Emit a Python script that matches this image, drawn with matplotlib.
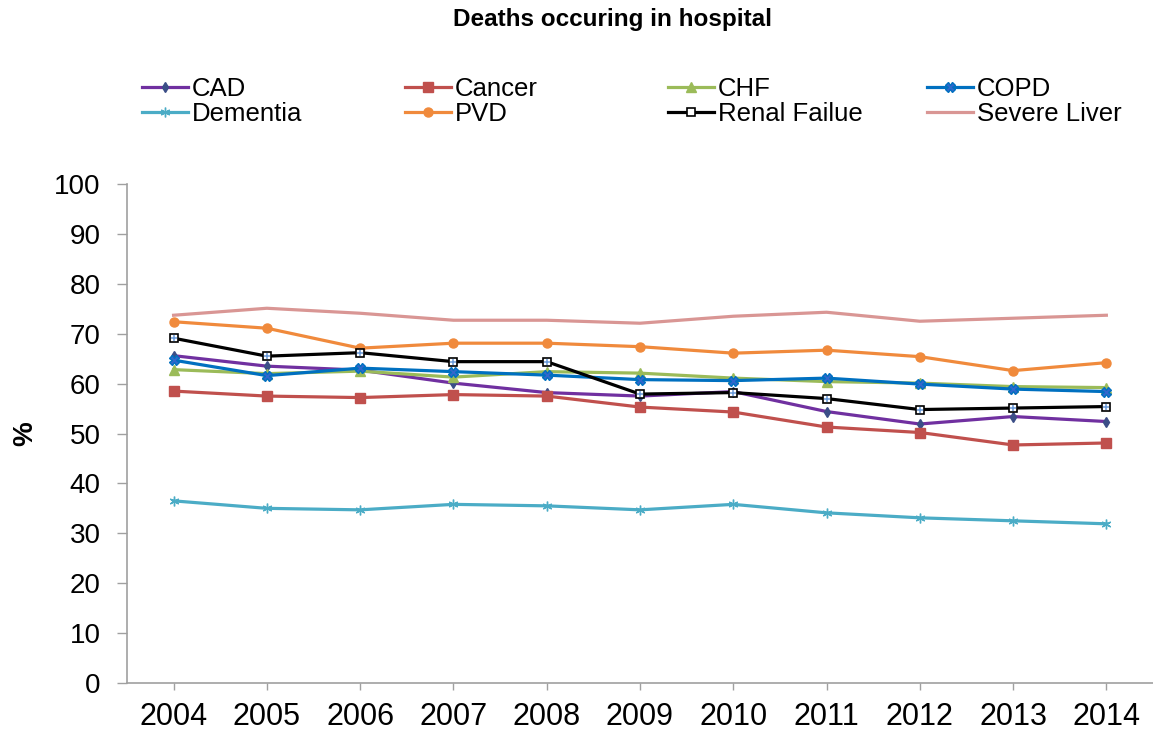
import matplotlib
matplotlib.use('Agg')
import matplotlib.pyplot as plt

years = ['2004', '2005', '2006', '2007', '2008', '2009', '2010', '2011', '2012', '2013', '2014']

cad = [65.6, 63.5, 62.7, 60.1, 58.2, 57.5, 58.4, 54.4, 51.9, 53.4, 52.4]
cancer = [58.5, 57.5, 57.2, 57.8, 57.5, 55.3, 54.3, 51.3, 50.2, 47.7, 48.1]
chf = [62.8, 62.0, 62.5, 61.3, 62.4, 62.1, 61.1, 60.4, 60.1, 59.4, 59.2]
copd = [64.7, 61.6, 63.1, 62.4, 61.7, 60.8, 60.6, 61.1, 59.9, 58.9, 58.4]
dementia = [36.5, 35.0, 34.7, 35.8, 35.5, 34.7, 35.8, 34.1, 33.1, 32.5, 31.9]
pvd = [72.4, 71.1, 67.1, 68.1, 68.1, 67.4, 66.1, 66.7, 65.4, 62.6, 64.2]
renal = [69.1, 65.5, 66.2, 64.4, 64.4, 57.9, 58.2, 57.0, 54.8, 55.1, 55.4]
liver = [73.7, 75.1, 74.1, 72.7, 72.7, 72.1, 73.5, 74.3, 72.5, 73.1, 73.7]


def main():
    plt.rcParams['font.family'] = ['Liberation Sans', 'DejaVu Sans']

    fig = plt.figure(figsize=(11.53, 7.34), dpi=100)
    ax = fig.add_axes([0.1101, 0.0695, 0.8899, 0.6798])

    x = list(range(len(years)))
    lw = 2.3

    # order matters for the legend columns: row 1 is the first four
    h_cad, = ax.plot(x, cad, color='#7030A0', lw=lw, marker='d', ms=5,
                     mfc='#3B4E87', mec='#3B4E87', label='CAD')
    h_cancer, = ax.plot(x, cancer, color='#C0504D', lw=lw, marker='s', ms=6.5,
                        label='Cancer')
    h_chf, = ax.plot(x, chf, color='#9BBB59', lw=lw, marker='^', ms=7,
                     label='CHF')
    h_copd, = ax.plot(x, copd, color='#0070C0', lw=lw, marker='X', ms=6.5,
                      mfc='#3366CC', mec='#0070C0', label='COPD')
    h_dem, = ax.plot(x, dementia, color='#4BACC6', lw=lw, marker=(6, 2, 0),
                     ms=7, mec='#4BACC6', label='Dementia')
    h_pvd, = ax.plot(x, pvd, color='#F08A3C', lw=lw, marker='o', ms=6.5,
                     label='PVD')
    h_renal, = ax.plot(x, renal, color='black', lw=lw, marker='s', ms=5.5,
                       mfc='white', mec='black', mew=1.2, label='Renal Failue')
    # light blue plus inside the renal squares
    ax.plot(x, renal, ls='none', marker='+', ms=5, mew=1.1, color='#6A9AD8')
    h_liver, = ax.plot(x, liver, color='#D99694', lw=lw, label='Severe Liver')

    ax.set_xlim(-0.5, len(years) - 0.5)
    ax.set_ylim(0, 100)
    ax.set_yticks(range(0, 101, 10))
    ax.set_xticks(x)
    ax.set_xticklabels(years)

    for side in ['top', 'right']:
        ax.spines[side].set_visible(False)
    for side in ['left', 'bottom']:
        ax.spines[side].set_color('#A0A0A0')
        ax.spines[side].set_linewidth(1.2)

    ax.tick_params(axis='y', direction='out', length=7, width=1, color='#A0A0A0',
                   labelsize=20, pad=12)
    ax.tick_params(axis='x', direction='out', length=5, width=1, color='#A0A0A0',
                   labelsize=22, pad=9)

    fig.text(0.022, 0.409, '%', fontsize=20, fontweight='bold', rotation=90,
             ha='center', va='center')
    fig.text(0.531, 0.973, 'Deaths occuring in hospital', fontsize=17.5,
             fontweight='bold', ha='center', va='center')

    # legend: four columns, placed one by one to keep even spacing
    cols = [(h_cad, h_dem), (h_cancer, h_pvd), (h_chf, h_renal), (h_copd, h_liver)]
    col_x = [0.1232, 0.3513, 0.5794, 0.804]
    for (a, b), cx in zip(cols, col_x):
        fig.legend([a, b], [a.get_label(), b.get_label()], loc='upper left',
                   bbox_to_anchor=(cx, 0.895), frameon=False, fontsize=18.5,
                   borderpad=0, borderaxespad=0, handlelength=1.79,
                   handletextpad=0.15, labelspacing=0.05)

    plt.savefig('out.png', dpi=100)


if __name__ == "__main__":
    main()
